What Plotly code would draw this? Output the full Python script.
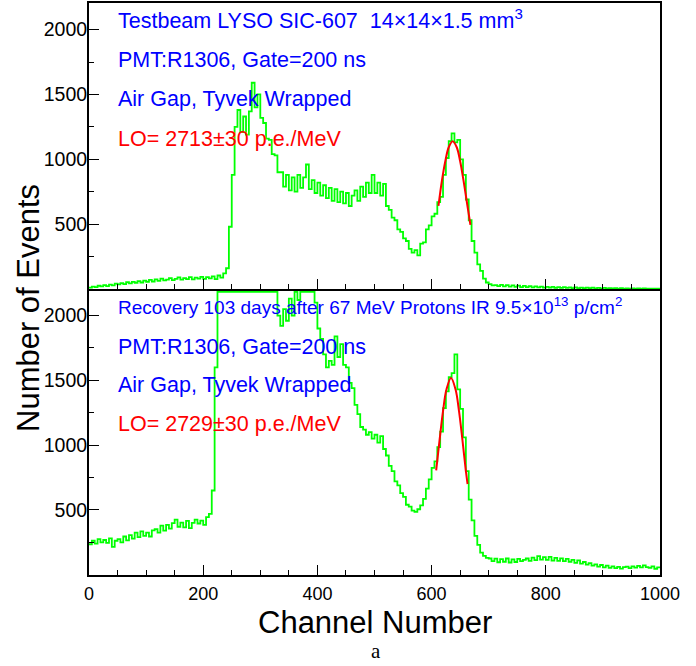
import numpy as np
import plotly.graph_objects as go

# ---------------------------------------------------------------- data
# ADC spectra, 5-channel bins (lower bin edge)
channel = list(range(0, 1000, 5))

# Testbeam spectrum (before irradiation)
counts_testbeam = [
    10, 18, 14, 25, 20, 30, 22, 34, 28, 42, 36, 45, 38, 52, 44, 55, 48, 60, 50, 64,
    56, 70, 58, 74, 62, 80, 66, 72, 84, 68, 78, 90, 72, 84, 76, 92, 74, 88, 80, 94,
    78, 92, 82, 98, 76, 104, 88, 120, 160, 480, 880, 1250, 1380, 1210, 1330, 1190, 1370, 1590, 1400, 1500,
    1320, 1280, 1160, 1150, 1040, 1030, 900, 900, 790, 880, 760, 860, 750, 880, 780, 860, 960, 770, 840, 740,
    820, 720, 800, 700, 780, 680, 770, 670, 750, 660, 740, 640, 720, 760, 680, 790, 710, 820, 740, 880,
    740, 820, 720, 810, 640, 610, 550, 530, 460, 440, 390, 370, 310, 280, 300, 260, 350, 360, 460, 490,
    560, 580, 670, 710, 880, 1010, 1140, 1200, 1130, 1150, 1000, 880, 690, 530, 370, 280, 190, 140, 80, 50,
    38, 28, 30, 22, 32, 20, 30, 18, 28, 16, 26, 15, 24, 14, 22, 13, 20, 12, 19, 11,
    17, 10, 16, 9, 15, 8, 14, 8, 13, 7, 12, 7, 11, 6, 11, 6, 10, 5, 9, 5,
    8, 4, 7, 4, 7, 3, 6, 3, 5, 3, 5, 2, 4, 2, 4, 2, 3, 2, 3, 2,
]

# Spectrum after 103 days of recovery from 67 MeV proton irradiation
counts_recovery = [
    235, 262, 240, 275, 250, 268, 245, 280, 215, 262, 275, 250, 295, 265, 305, 278, 325, 290, 335, 300,
    325, 295, 342, 352, 325, 378, 340, 385, 355, 398, 425, 370, 402, 366, 415, 360, 400, 425, 395, 418,
    385, 445, 470, 650, 1600, 2600, 2700, 2650, 2600, 2550, 2500, 2480, 2450, 2420, 2500, 2550, 2600, 2650, 2600, 2550,
    2500, 2450, 2400, 2350, 2300, 2250, 2000, 1920, 2050, 1960, 2130, 2000, 2240, 2120, 2300, 2350, 2300, 2280, 2250, 2100,
    1900, 1820, 1700, 1600, 1650, 1620, 1840, 1680, 1780, 1620, 1600, 1480, 1440, 1310, 1240, 1140, 1120, 1080, 1100, 1050,
    1080, 1020, 1070, 970, 920, 840, 800, 720, 690, 630, 600, 540, 525, 495, 485, 505, 535, 585, 665, 735,
    825, 875, 985, 1105, 1285, 1415, 1525, 1555, 1700, 1430, 1280, 1060, 800, 580, 420, 300, 230, 170, 145, 130,
    125, 104, 124, 96, 120, 100, 125, 94, 118, 98, 122, 104, 115, 125, 106, 132, 112, 143, 116, 136,
    114, 138, 108, 130, 106, 126, 104, 122, 100, 115, 92, 111, 85, 98, 77, 89, 70, 80, 63, 75,
    57, 70, 53, 64, 50, 60, 47, 58, 62, 50, 64, 54, 68, 56, 72, 58, 53, 64, 46, 56,
]

# Gaussian fits of the photopeak
fit_testbeam_ch = [612, 618, 624, 630, 637, 644, 650, 656, 662, 668]
fit_testbeam_val = [640, 833, 985, 1093, 1140, 1093, 985, 833, 663, 495]
fit_recovery_ch = [608, 614, 620, 626, 634, 642, 648, 654, 660, 663]
fit_recovery_val = [805, 1040, 1262, 1429, 1518, 1429, 1262, 1040, 801, 700]

# ---------------------------------------------------------------- style
W, H = 696, 666
X_LEFT, X_RIGHT = 89, 660          # frame, pixels
Y_TOP, Y_MID, Y_BOT = 3, 289, 574.7
Y_MAX = 2205

GREEN = "#00ff00"
RED = "#ff0000"
BLUE = "#0000ff"
FONT = "Liberation Sans, Arial, sans-serif"


def px_x(p):
    return p / W


def px_y(p):
    return (H - p) / H


def edges(values):
    # closing edge for the step drawing
    return channel + [1000], list(values) + [values[-1]]


def framed(values):
    # over-range bins are drawn along the upper frame edge
    return np.minimum(np.asarray(values, dtype=float), Y_MAX * 0.99)


fig = go.Figure()

xt, yt = edges(counts_testbeam)
fig.add_trace(go.Scatter(x=xt, y=framed(yt), mode="lines", line_shape="hv",
                         line=dict(color=GREEN, width=1.8), xaxis="x", yaxis="y",
                         showlegend=False, hoverinfo="skip"))
fig.add_trace(go.Scatter(x=fit_testbeam_ch, y=fit_testbeam_val, mode="lines",
                         line=dict(color=RED, width=2, shape="spline"),
                         xaxis="x", yaxis="y", showlegend=False))

xr, yr = edges(counts_recovery)
fig.add_trace(go.Scatter(x=xr, y=framed(yr), mode="lines", line_shape="hv",
                         line=dict(color=GREEN, width=1.8), xaxis="x2", yaxis="y2",
                         showlegend=False, hoverinfo="skip"))
fig.add_trace(go.Scatter(x=fit_recovery_ch, y=fit_recovery_val, mode="lines",
                         line=dict(color=RED, width=2, shape="spline"),
                         xaxis="x2", yaxis="y2", showlegend=False))

axis_common = dict(showline=True, linecolor="black", linewidth=2, mirror=True,
                   ticks="inside", tickcolor="black", showgrid=False, zeroline=False,
                   automargin=False)

x_common = dict(axis_common, range=[0, 1000], tick0=0, dtick=200, ticklen=10, tickwidth=1.2,
                tickfont=dict(family=FONT, size=18, color="black"),
                minor=dict(ticks="inside", dtick=50, tick0=0, ticklen=5,
                           tickcolor="black", tickwidth=1),
                domain=[px_x(X_LEFT), px_x(X_RIGHT)])
y_common = dict(axis_common, range=[0, Y_MAX], tickvals=[500, 1000, 1500, 2000],
                ticklen=10, tickwidth=1.2, ticklabelstandoff=-4,
                tickfont=dict(family=FONT, size=19.5, color="black"),
                minor=dict(ticks="inside", dtick=250, tick0=0, ticklen=5,
                           tickcolor="black", tickwidth=1))

fig.update_layout(
    width=W, height=H, autosize=False,
    margin=dict(l=0, r=0, t=0, b=0, pad=0, autoexpand=False),
    showlegend=False,
    paper_bgcolor="white", plot_bgcolor="white",
    font=dict(family=FONT, color="black"),
    xaxis=dict(x_common, anchor="y", showticklabels=False),
    yaxis=dict(y_common, anchor="x", domain=[px_y(Y_MID), px_y(Y_TOP)]),
    # the shared edge between the panels is drawn once, by the upper panel
    xaxis2=dict(x_common, anchor="y2", mirror=False, ticklabelstandoff=2),
    yaxis2=dict(y_common, anchor="x2", domain=[px_y(Y_BOT), px_y(Y_MID)]),
)

TXT_X = px_x(116)


def label(text, y_center, color, size):
    fig.add_annotation(text=text, x=TXT_X, y=px_y(y_center), xref="paper", yref="paper",
                       xanchor="left", yanchor="middle", showarrow=False,
                       font=dict(family=FONT, size=size, color=color))


label("Testbeam LYSO SIC-607\u00a0\u00a014\u00d714\u00d71.5 mm<sup>3</sup>", 19, BLUE, 21.5)
label("PMT:R1306, Gate=200 ns", 60, BLUE, 21.5)
label("Air Gap, Tyvek Wrapped", 99, BLUE, 21.5)
label("LO= 2713\u00b130 p.e./MeV", 139, RED, 21.5)

label("Recovery 103 days after 67 MeV Protons IR 9.5\u00d710<sup>13</sup> p/cm<sup>2</sup>",
      306, BLUE, 19)
label("PMT:R1306, Gate=200 ns", 346.5, BLUE, 21.5)
label("Air Gap, Tyvek Wrapped", 384.5, BLUE, 21.5)
label("LO= 2729\u00b130 p.e./MeV", 424, RED, 21.5)

fig.add_annotation(text="Number of Events", textangle=-90, x=px_x(28), y=px_y(308),
                   xref="paper", yref="paper", xanchor="center", yanchor="middle",
                   showarrow=False, font=dict(family=FONT, size=31, color="black"))
fig.add_annotation(text="Channel Number", x=px_x(375), y=px_y(622),
                   xref="paper", yref="paper", xanchor="center", yanchor="middle",
                   showarrow=False, font=dict(family=FONT, size=31, color="black"))
fig.add_annotation(text="a", x=px_x(376), y=px_y(651),
                   xref="paper", yref="paper", xanchor="center", yanchor="middle",
                   showarrow=False,
                   font=dict(family="Liberation Serif, Times New Roman, serif", size=21,
                             color="black"))

fig.write_html("out.html")
